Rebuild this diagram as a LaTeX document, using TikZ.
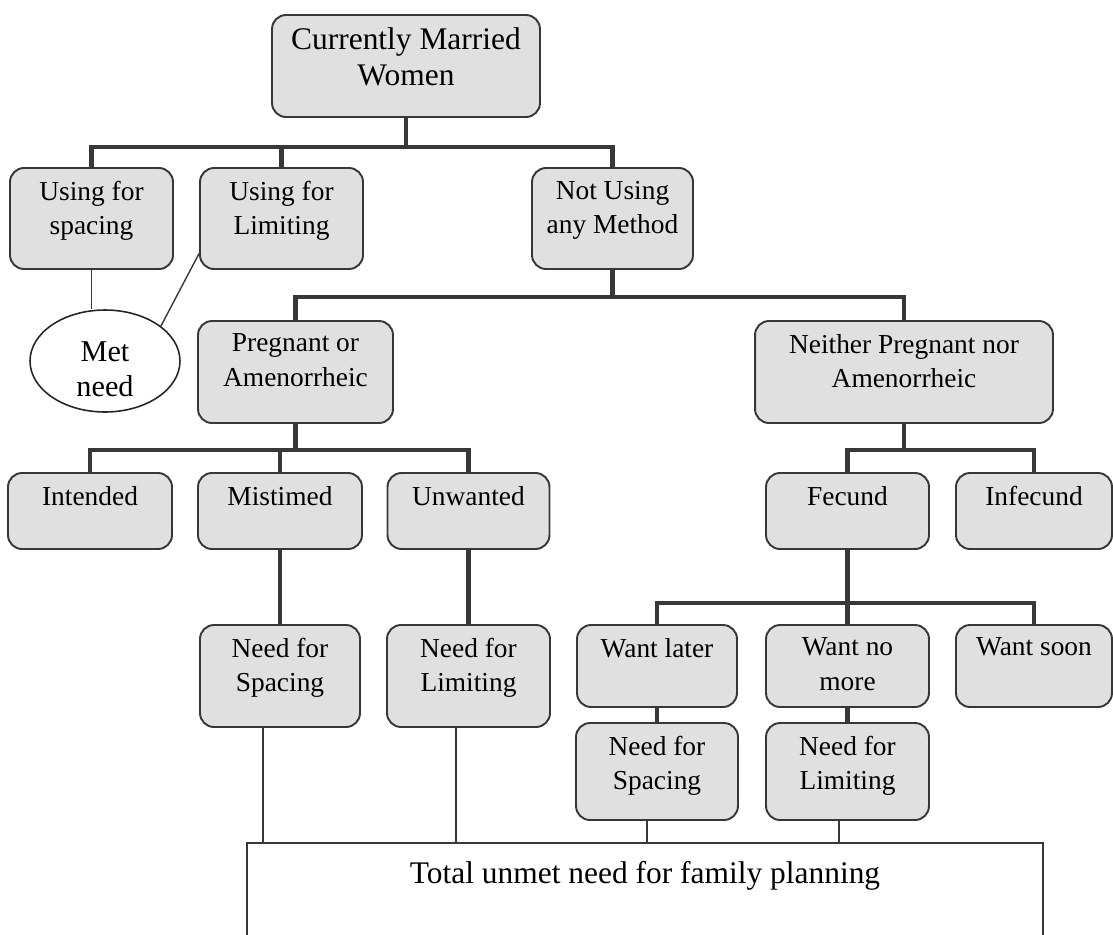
\documentclass[tikz,border=0pt]{standalone}
\usepackage{fontspec}
\setmainfont{Liberation Serif}
\usetikzlibrary{shapes.geometric}
\definecolor{boxfill}{gray}{0.88}
\definecolor{edgegray}{gray}{0.22}
\newcommand{\cell}[3]{\parbox[t][\dimexpr #2-0.52cm\relax][t]{#1}{\centering #3}}

\begin{document}
\begin{tikzpicture}[x=0.02cm,y=-0.02cm,
    blk/.style={draw=edgegray,fill=boxfill,line width=1.1pt,rectangle,rounded corners=0.28cm,inner xsep=0pt,inner ysep=0.26cm,font=\fontsize{15.6}{19.4}\selectfont},
    big/.style={font=\fontsize{17.9}{20.5}\selectfont},
    bar/.style={draw=edgegray,line width=2.6pt,line join=miter},
    link/.style={draw=edgegray,line width=0.8pt},
    metneed/.style={draw=black!85,line width=0.9pt,fill=white,ellipse,minimum width=3cm,minimum height=2.04cm,inner sep=0pt,font=\fontsize{17.2}{20}\selectfont},
    total/.style={draw=edgegray,line width=0.9pt,rectangle,inner xsep=0pt,inner ysep=0.36cm,font=\fontsize{17.9}{20.5}\selectfont}
  ]
  \useasboundingbox (0,0) rectangle (1113,934);
  \clip (0,0) rectangle (1113,934);

  % first level
  \node[blk,big] (cmw) at (406,66) {\cell{5.36cm}{2.04cm}{Currently Married\\Women}};
  \node[blk] (usp) at (91.5,218.5) {\cell{3.26cm}{2.02cm}{Using for\\spacing}};
  \node[blk] (uli) at (281.5,218.5) {\cell{3.26cm}{2.02cm}{Using for\\Limiting}};
  \node[blk] (nus) at (612.5,218.5) {\cell{3.22cm}{2.02cm}{Not Using\\any Method}};
  \node[metneed] (met) at (105,361) {\raisebox{-0.32cm}[0.5cm][0.5cm]{\parbox[c]{1.6cm}{\centering Met\\need}}};

  % pregnancy status
  \node[blk] (pam) at (295.5,372) {\cell{3.9cm}{2.04cm}{Pregnant or\\Amenorrheic}};
  \node[blk] (npa) at (904,372) {\cell{5.96cm}{2.04cm}{Neither Pregnant nor\\Amenorrheic}};

  \node[blk] (int) at (90,511) {\cell{3.28cm}{1.52cm}{Intended}};
  \node[blk] (mis) at (280,511) {\cell{3.28cm}{1.52cm}{Mistimed}};
  \node[blk] (unw) at (468.5,511) {\cell{3.24cm}{1.52cm}{Unwanted}};
  \node[blk] (fec) at (847.5,511) {\cell{3.26cm}{1.52cm}{Fecund}};
  \node[blk] (inf) at (1034,511) {\cell{3.12cm}{1.52cm}{Infecund}};

  % wanting
  \node[blk] (wla) at (657,666) {\cell{3.2cm}{1.64cm}{Want later}};
  \node[blk] (wnm) at (847.5,666) {\cell{3.26cm}{1.64cm}{Want no\\more}};
  \node[blk] (wso) at (1034,666) {\cell{3.12cm}{1.64cm}{Want soon}};

  % unmet need
  \node[blk] (nsl) at (280,676) {\cell{3.2cm}{2.04cm}{Need for\\Spacing}};
  \node[blk] (nll) at (468.5,676) {\cell{3.26cm}{2.04cm}{Need for\\Limiting}};
  \node[blk] (nsr) at (657,771.5) {\cell{3.24cm}{1.94cm}{Need for\\Spacing}};
  \node[blk] (nlr) at (847.5,771.5) {\cell{3.26cm}{1.94cm}{Need for\\Limiting}};
  \node[total] (tot) at (645,928) {\cell{15.92cm}{3.2cm}{Total unmet need for family planning}};

  % bars
  \coordinate (b1) at (0,147);
  \coordinate (b2) at (0,297);
  \coordinate (b3) at (0,450);
  \coordinate (b4) at (0,603);
  \draw[bar] (cmw.south) -- (cmw.south |- b1);
  \draw[bar] (usp.north) -- (usp.north |- b1) -- (nus.north |- b1) -- (nus.north);
  \draw[bar] (uli.north) -- (uli.north |- b1);
  \draw[bar] (nus.south) -- (nus.south |- b2);
  \draw[bar] (pam.north) -- (pam.north |- b2) -- (npa.north |- b2) -- (npa.north);
  \draw[bar] (pam.south) -- (pam.south |- b3);
  \draw[bar] (int.north) -- (int.north |- b3) -- (unw.north |- b3) -- (unw.north);
  \draw[bar] (mis.north) -- (mis.north |- b3);
  \draw[bar] (npa.south) -- (npa.south |- b3);
  \draw[bar] (fec.north) -- (fec.north |- b3) -- (inf.north |- b3) -- (inf.north);
  \draw[bar] (fec.south) -- (fec.south |- b4);
  \draw[bar] (wla.north) -- (wla.north |- b4) -- (wso.north |- b4) -- (wso.north);
  \draw[bar] (wnm.north) -- (wnm.north |- b4);
  \foreach \a/\b in {mis/nsl,unw/nll,wla/nsr,wnm/nlr}
    \draw[bar] (\a.south) -- (\b.north);

  % thin links
  \draw[link] (usp.south) -- (met.north -| usp.south);
  \draw[link] (uli.203) -- (met.32);
  \foreach \n/\s in {nsl/-0.34cm,nll/-0.25cm,nsr/-0.2cm,nlr/-0.17cm}
    \draw[link] ([xshift=\s]\n.south) -- ([xshift=\s]\n.south |- tot.north);
\end{tikzpicture}
\end{document}
